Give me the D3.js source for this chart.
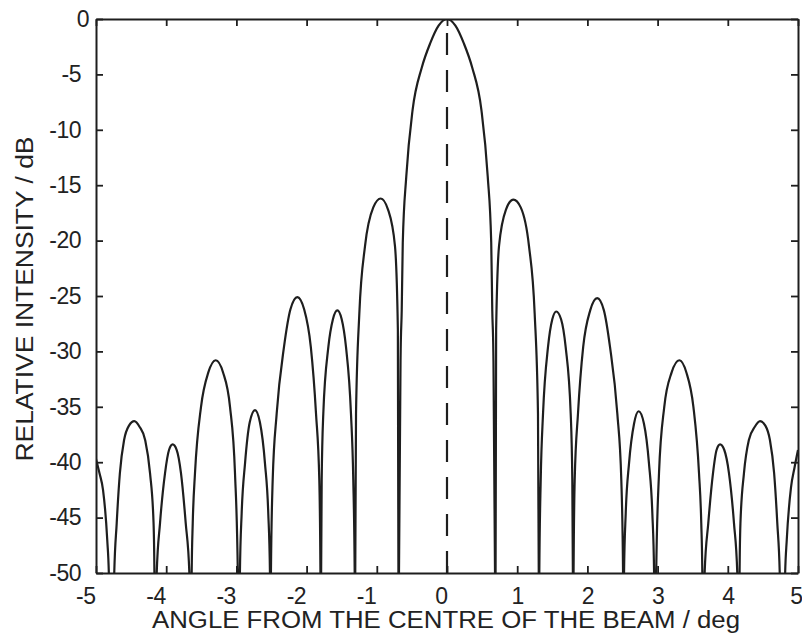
<!DOCTYPE html>
<html>
<head>
<meta charset="utf-8">
<script src="https://cdn.jsdelivr.net/npm/d3@7"></script>
<style>
    html, body { margin: 0; padding: 0; background: #fff; }
    svg { display: block; }
    text { font-family: "Liberation Sans", Arial, Helvetica, sans-serif; fill: #222; }
</style>
</head>
<body>
<div id="chart"></div>
<script>
(function () {
    "use strict";

    // angle from the beam centre (deg)
    const angles = [
        -5.00, -4.95, -4.90, -4.84, -4.815, -4.78,
        -4.742, -4.705, -4.66, -4.60, -4.53, -4.454, -4.38, -4.30, -4.23, -4.18, -4.168, -4.152,
        -4.135, -4.088, -4.017, -3.96, -3.908, -3.85, -3.789, -3.722, -3.67, -3.655,
        -3.637, -3.622, -3.59, -3.504, -3.40, -3.295, -3.19, -3.091, -3.02, -2.98, -2.965,
        -2.95, -2.925, -2.877, -2.81, -2.735, -2.665, -2.593, -2.546, -2.522, -2.516,
        -2.508, -2.483, -2.426, -2.322, -2.23, -2.132, -2.035, -1.94, -1.866, -1.819, -1.803, -1.798,
        -1.793, -1.785, -1.762, -1.69, -1.625, -1.562, -1.50, -1.439, -1.368, -1.335, -1.315, -1.311,
        -1.307, -1.296, -1.249, -1.168, -1.05, -0.944, -0.84, -0.741, -0.70, -0.692, -0.688,
        -0.684, -0.66, -0.645, -0.63, -0.58, -0.49, -0.36, -0.24, -0.12,
        0,
        0.12, 0.24, 0.36, 0.49, 0.58, 0.63, 0.645, 0.66, 0.684,
        0.688, 0.692, 0.70, 0.741, 0.84, 0.946, 1.05, 1.168, 1.249, 1.296, 1.307,
        1.311, 1.315, 1.335, 1.368, 1.439, 1.50, 1.556, 1.625, 1.69, 1.762, 1.785, 1.793,
        1.798, 1.803, 1.819, 1.866, 1.94, 2.04, 2.14, 2.235, 2.322, 2.426, 2.483, 2.508,
        2.516, 2.522, 2.546, 2.593, 2.665, 2.73, 2.805, 2.877, 2.925, 2.95,
        2.965, 2.98, 3.02, 3.095, 3.20, 3.31, 3.41, 3.51, 3.59, 3.622, 3.637,
        3.655, 3.67, 3.722, 3.789, 3.84, 3.89, 3.95, 4.017, 4.088, 4.135,
        4.152, 4.168, 4.18, 4.23, 4.30, 4.385, 4.46, 4.535, 4.60, 4.66, 4.705, 4.742,
        4.78, 4.815, 4.84, 4.90, 4.95, 5.00
    ];

    // relative intensity (dB) at each angle; -80 marks a null below the axis
    const intensity = [
        -39.7, -41.0, -42.5, -47.0, -50.5, -80,
        -50.5, -45.5, -41.0, -38.0, -36.7, -36.3, -36.8, -38.0, -41.0, -45.5, -50, -80,
        -50, -45.5, -41.0, -38.9, -38.4, -38.9, -41.0, -45.5, -50, -80,
        -50, -45.5, -41.0, -35.0, -31.9, -30.8, -31.9, -35.0, -41.0, -50, -80,
        -50, -44.6, -40.1, -36.4, -35.3, -36.4, -40.1, -44.6, -50, -80,
        -50, -41.6, -35.6, -29.6, -26.2, -25.1, -26.2, -29.6, -35.6, -41.6, -50, -80,
        -50, -41.6, -35.6, -29.6, -27.1, -26.3, -27.1, -29.6, -35.6, -41.6, -50, -80,
        -50, -35.6, -26.6, -20.5, -17.0, -16.2, -17.2, -20.5, -28.0, -50, -80,
        -50, -30.0, -26.3, -20.2, -14.2, -8.2, -4.4, -2.2, -0.6,
        0,
        -0.6, -2.2, -4.4, -8.2, -14.2, -20.2, -26.3, -30.0, -50,
        -80, -50, -28.0, -20.5, -17.2, -16.3, -17.0, -20.5, -26.6, -35.6, -50,
        -80, -50, -41.6, -35.6, -29.6, -27.1, -26.4, -27.1, -29.6, -35.6, -41.6, -50,
        -80, -50, -41.6, -35.6, -29.6, -26.3, -25.2, -26.3, -29.6, -35.6, -41.6, -50,
        -80, -50, -44.6, -40.1, -36.5, -35.4, -36.5, -40.1, -44.6, -50,
        -80, -50, -41.0, -35.0, -31.9, -30.8, -31.9, -35.0, -41.0, -45.5, -50,
        -80, -50, -45.5, -41.0, -38.9, -38.4, -38.9, -41.0, -45.5, -50,
        -80, -50, -45.5, -41.0, -38.0, -36.8, -36.3, -36.7, -38.0, -41.0, -45.5, -50.5,
        -80, -50.5, -47.0, -42.3, -40.5, -38.9
    ];

    const xTicks = [-5, -4, -3, -2, -1, 0, 1, 2, 3, 4, 5];
    const yTicks = [0, -5, -10, -15, -20, -25, -30, -35, -40, -45, -50];
    const xTitle = "ANGLE FROM THE CENTRE OF THE BEAM / deg";
    const yTitle = "RELATIVE INTENSITY / dB";

    const width = 802;
    const height = 638;
    const margin = { top: 19, right: 4, bottom: 65, left: 96 };
    const ink = "#1e1e1e";

    const x = d3.scaleLinear().domain([-5, 5]).range([margin.left, width - margin.right]);
    const y = d3.scaleLinear().domain([-50, 0]).range([height - margin.bottom, margin.top]);

    const svg = d3.select("#chart").append("svg")
        .attr("width", width)
        .attr("height", height);

    svg.append("clipPath")
        .attr("id", "plot-clip")
        .append("rect")
        .attr("x", x(-5))
        .attr("y", y(0))
        .attr("width", x(5) - x(-5))
        .attr("height", y(-50) - y(0));

    const points = angles.map((a, i) => [a, intensity[i]]);

    // centre of the beam
    svg.append("line")
        .attr("x1", x(0))
        .attr("x2", x(0))
        .attr("y1", y(0))
        .attr("y2", y(-50))
        .attr("stroke", ink)
        .attr("stroke-width", 2.2)
        .attr("stroke-dasharray", "22,15")
        .attr("stroke-dashoffset", 23);

    const line = d3.line()
        .x(d => x(d[0]))
        .y(d => y(d[1]))
        .curve(d3.curveMonotoneX);

    svg.append("path")
        .datum(points)
        .attr("clip-path", "url(#plot-clip)")
        .attr("fill", "none")
        .attr("stroke", ink)
        .attr("stroke-width", 2.2)
        .attr("stroke-linejoin", "round")
        .attr("d", line);

    const tickLen = 7;
    const plainNumber = d => String(d);

    function styleAxis(g) {
        g.attr("font-family", null).attr("font-size", null);
        g.select(".domain").attr("stroke", ink).attr("stroke-width", 2);
        g.selectAll(".tick line").attr("stroke", ink).attr("stroke-width", 1.8);
        g.selectAll(".tick text")
            .attr("fill", ink)
            .style("font-size", "23px")
            .style("letter-spacing", "-0.5px");
    }

    const bottomAxis = svg.append("g")
        .attr("transform", `translate(0,${y(-50)})`)
        .call(d3.axisBottom(x).tickValues(xTicks).tickFormat(plainNumber)
            .tickSize(-tickLen).tickSizeOuter(0).tickPadding(15))
        .call(styleAxis);
    bottomAxis.selectAll(".tick text")
        .attr("text-anchor", d => d <= 0 || d === 5 ? "end" : "middle")
        .attr("x", d => d < 0 ? -1 : (d === 5 ? 4 : 0));

    svg.append("g")
        .attr("transform", `translate(0,${y(0)})`)
        .call(d3.axisTop(x).tickValues(xTicks).tickSize(-tickLen).tickSizeOuter(0).tickFormat(""))
        .call(styleAxis);

    const leftAxis = svg.append("g")
        .attr("transform", `translate(${x(-5)},0)`)
        .call(d3.axisLeft(y).tickValues(yTicks).tickFormat(plainNumber)
            .tickSize(-tickLen).tickSizeOuter(0).tickPadding(16))
        .call(styleAxis);
    leftAxis.selectAll(".tick text")
        .attr("x", d => d === 0 ? -7 : -15);

    svg.append("g")
        .attr("transform", `translate(${x(5)},0)`)
        .call(d3.axisRight(y).tickValues(yTicks).tickSize(-tickLen).tickSizeOuter(0).tickFormat(""))
        .call(styleAxis);

    svg.append("text")
        .attr("x", 446)
        .attr("y", 628)
        .attr("text-anchor", "middle")
        .attr("textLength", 588)
        .attr("lengthAdjust", "spacingAndGlyphs")
        .style("font-size", "23px")
        .text(xTitle);

    svg.append("text")
        .attr("transform", "translate(33,299) rotate(-90)")
        .attr("text-anchor", "middle")
        .attr("textLength", 325)
        .attr("lengthAdjust", "spacingAndGlyphs")
        .style("font-size", "23px")
        .text(yTitle);
}());
</script>
</body>
</html>
